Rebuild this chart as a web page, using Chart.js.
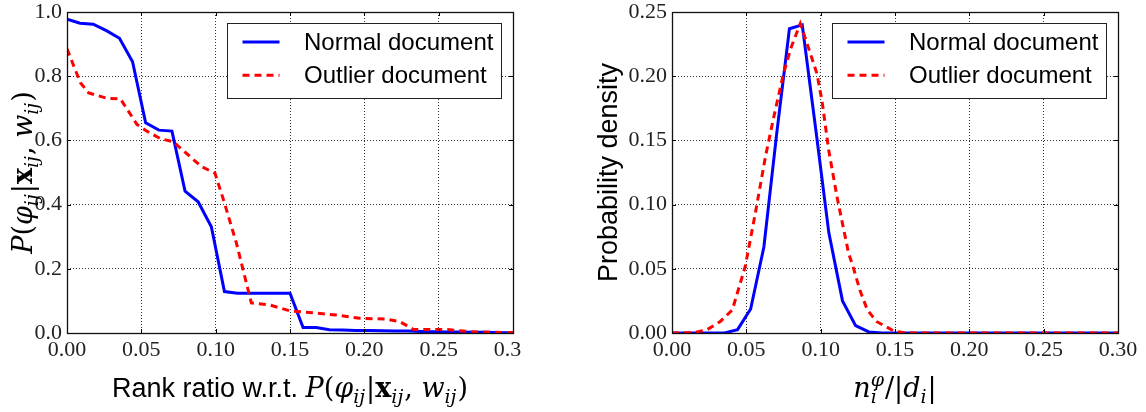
<!DOCTYPE html>
<html>
<head>
<meta charset="utf-8">
<script src="https://cdn.jsdelivr.net/npm/chart.js"></script>
<style>
    html, body { margin: 0; padding: 0; background: #fff; }
    #wrap { position: relative; width: 1146px; height: 412px; overflow: hidden; }
    #leftBox { position: absolute; left: 0; top: 0; width: 521px; height: 412px; overflow: hidden; }
    #rightBox { position: absolute; left: 573px; top: 0; width: 573px; height: 412px; }
</style>
</head>
<body>
<div id="wrap">
    <div id="leftBox"><canvas id="rankChart" width="540" height="412"></canvas></div>
    <div id="rightBox"><canvas id="densChart" width="573" height="412"></canvas></div>
</div>
<script>
// ---- left panel: probability vs rank ratio ----
const rankNormalX = [0, 0.0088, 0.0176, 0.0265, 0.0353, 0.0441, 0.0529, 0.0618, 0.0706, 0.0794, 0.0882, 0.0971,
    0.1059, 0.1147, 0.1235, 0.1324, 0.1412, 0.15, 0.1588, 0.1676, 0.1765, 0.1853, 0.1941, 0.2029, 0.2118, 0.2206,
    0.2294, 0.2382, 0.2471, 0.2559, 0.2647, 0.2735, 0.2824, 0.2912, 0.3];
const rankNormalY = [0.978, 0.965, 0.962, 0.942, 0.918, 0.845, 0.655, 0.632, 0.629, 0.442, 0.409, 0.331,
    0.129, 0.124, 0.124, 0.124, 0.124, 0.124, 0.017, 0.017, 0.010, 0.009, 0.008, 0.008, 0.007, 0.006,
    0.006, 0.005, 0.004, 0.003, 0.003, 0.002, 0.002, 0.001, 0.001];
const rankOutlierX = [0, 0.009, 0.0146, 0.027, 0.036, 0.047, 0.054, 0.063, 0.0715, 0.079, 0.0906, 0.0995,
    0.106, 0.114, 0.124, 0.1365, 0.150, 0.166, 0.181, 0.197, 0.215, 0.224, 0.233, 0.255, 0.271, 0.300];
const rankOutlierY = [0.885, 0.78, 0.748, 0.731, 0.729, 0.650, 0.628, 0.605, 0.596, 0.565, 0.518, 0.498,
    0.404, 0.279, 0.094, 0.087, 0.069, 0.063, 0.056, 0.046, 0.043, 0.035, 0.011, 0.011, 0.004, 0.001];

// ---- right panel: density of n_i / |d_i| ----
const densNormalX = [0, 0.0353, 0.0441, 0.0529, 0.0618, 0.0706, 0.0790, 0.0876, 0.0971, 0.1055, 0.1147,
    0.1235, 0.1324, 0.1412, 0.3];
const densNormalY = [0, 0, 0.0026, 0.0187, 0.067, 0.157, 0.237, 0.240, 0.155, 0.078, 0.025,
    0.0057, 0.0008, 0, 0];
const densOutlierX = [0, 0.0145, 0.0235, 0.0325, 0.0406, 0.0493, 0.0560, 0.0628, 0.0684, 0.075, 0.080, 0.0863,
    0.0908, 0.0975, 0.101, 0.1054, 0.111, 0.1188, 0.1217, 0.1265, 0.1314, 0.1375, 0.1496, 0.158, 0.3];
const densOutlierY = [0, 0.0003, 0.0025, 0.009, 0.018, 0.052, 0.093, 0.137, 0.168, 0.202, 0.222, 0.241,
    0.2256, 0.202, 0.18, 0.1425, 0.106, 0.062, 0.052, 0.033, 0.018, 0.009, 0.0013, 0, 0];

const seriesLabels = ['Normal document', 'Outlier document'];
const xTicksMax = 0.3;

// axis titles, split in pieces so sub/superscripts can be drawn smaller
const probParts = [
    { t: 'P', f: 'i' }, { t: '(', f: 'r' }, { t: 'φ', f: 'i' }, { t: 'ij', f: 'i', sub: true },
    { t: '|', f: 'r' }, { t: 'x', f: 'b' }, { t: 'ij', f: 'i', sub: true }, { t: ', ', f: 'r' },
    { t: 'w', f: 'i' }, { t: 'ij', f: 'i', sub: true }, { t: ')', f: 'r' }
];
const rankXTitle = [{ t: 'Rank ratio w.r.t. ', f: 's' }].concat(probParts);
const densXTitle = [
    { t: 'n', f: 'i' }, { t: 'i', f: 'i', sub: true, sup: 'φ' }, { t: '/', f: 'r' }, { t: '|', f: 'r' },
    { t: 'd', f: 'i' }, { t: 'i', f: 'i', sub: true }, { t: '|', f: 'r' }
];
const densYTitle = [{ t: 'Probability density', f: 's' }];

function toPoints(xs, ys) {
    return xs.map((x, i) => ({ x: x, y: ys[i] }));
}

function fontFor(f, size) {
    if (f === 's') return size + 'px "Liberation Sans"';
    // DejaVu Serif runs wide, close to Computer Modern math
    if (f === 'i') return 'italic ' + size + 'px "DejaVu Serif"';
    if (f === 'b') return 'bold ' + size + 'px "DejaVu Serif"';
    return size + 'px "DejaVu Serif"';
}

// draws mixed text centred on (cx, cy)
function drawRich(ctx, parts, cx, cy, size) {
    const small = Math.round(size * 0.7);
    const widths = parts.map(p => {
        if (p.sub || p.sup) {
            ctx.font = fontFor(p.f, small);
            let w = ctx.measureText(p.t).width;
            if (p.sup) w = Math.max(w, ctx.measureText(p.sup).width);
            return w + 1;
        }
        ctx.font = fontFor(p.f, size);
        return ctx.measureText(p.t).width;
    });
    const total = widths.reduce((a, b) => a + b, 0);
    let x = cx - total / 2;
    const base = cy + size * 0.35;
    ctx.textAlign = 'left';
    ctx.textBaseline = 'alphabetic';
    parts.forEach((p, i) => {
        if (p.sub || p.sup) {
            ctx.font = fontFor(p.f, small);
            ctx.fillText(p.t, x, base + size * 0.22);
            if (p.sup) ctx.fillText(p.sup, x, base - size * 0.42);
        } else {
            ctx.font = fontFor(p.f, size);
            ctx.fillText(p.t, x, base);
        }
        x += widths[i];
    });
}

const decoPlugin = {
    id: 'deco',
    afterDraw(chart, args, opts) {
        const ctx = chart.ctx;
        const a = chart.chartArea;
        const xs = chart.scales.x;
        const ys = chart.scales.y;
        ctx.save();

        // inward tick marks on all four sides
        ctx.strokeStyle = '#000';
        ctx.lineWidth = 1;
        ctx.beginPath();
        xs.ticks.forEach(t => {
            const px = Math.round(xs.getPixelForValue(t.value)) + 0.5;
            ctx.moveTo(px, a.bottom); ctx.lineTo(px, a.bottom - 4);
            ctx.moveTo(px, a.top); ctx.lineTo(px, a.top + 4);
        });
        ys.ticks.forEach(t => {
            const py = Math.round(ys.getPixelForValue(t.value)) + 0.5;
            ctx.moveTo(a.left, py); ctx.lineTo(a.left + 4, py);
            ctx.moveTo(a.right, py); ctx.lineTo(a.right - 4, py);
        });
        ctx.stroke();

        // frame
        ctx.lineWidth = 1.3;
        ctx.strokeStyle = '#111';
        ctx.strokeRect(Math.round(a.left) + 0.5, Math.round(a.top) + 0.5,
            Math.round(a.right - a.left), Math.round(a.bottom - a.top));

        // legend box in the upper right corner
        const bw = 274, bh = 75;
        const bx = Math.round(a.right - 12 - bw) + 0.5;
        const by = Math.round(a.top + 11) + 0.5;
        ctx.fillStyle = '#fff';
        ctx.fillRect(bx, by, bw, bh);
        ctx.strokeStyle = '#222';
        ctx.lineWidth = 1;
        ctx.strokeRect(bx, by, bw, bh);
        chart.data.datasets.forEach((ds, i) => {
            const ly = by + 18.5 + i * 33.3;
            ctx.strokeStyle = ds.borderColor;
            ctx.lineWidth = ds.borderWidth;
            ctx.setLineDash(ds.borderDash || []);
            ctx.beginPath();
            ctx.moveTo(bx + 15, ly);
            ctx.lineTo(bx + 52, ly);
            ctx.stroke();
            ctx.setLineDash([]);
            ctx.fillStyle = '#000';
            ctx.font = '24px "Liberation Sans"';
            ctx.textAlign = 'left';
            ctx.textBaseline = 'middle';
            ctx.fillText(ds.label, bx + 76.5, ly + 1);
        });

        // axis titles
        ctx.fillStyle = '#000';
        const cx = (a.left + a.right) / 2;
        drawRich(ctx, opts.xTitle, cx, 388, 27);
        ctx.translate(opts.yTitleX, (a.top + a.bottom) / 2);
        ctx.rotate(-Math.PI / 2);
        drawRich(ctx, opts.yTitle, 0, 0, 27);
        ctx.restore();
    }
};

function makeChart(canvasId, normalPts, outlierPts, yMax, yStep, yDigits, yWidth, padRight, xTitle, yTitle, yTitleX) {
    return new Chart(document.getElementById(canvasId), {
        type: 'line',
        data: {
            datasets: [
                {
                    label: seriesLabels[0],
                    data: normalPts,
                    borderColor: '#0000ff',
                    borderWidth: 3,
                    pointRadius: 0,
                    tension: 0,
                    fill: false,
                    order: 1
                },
                {
                    label: seriesLabels[1],
                    data: outlierPts,
                    borderColor: '#ff0000',
                    borderWidth: 3,
                    borderDash: [7, 5],
                    pointRadius: 0,
                    tension: 0,
                    fill: false,
                    order: 0
                }
            ]
        },
        options: {
            responsive: false,
            animation: false,
            layout: { padding: { left: 0, top: 12, right: padRight, bottom: 0 } },
            scales: {
                x: {
                    type: 'linear',
                    min: 0,
                    max: xTicksMax,
                    // fixed axis band, label overhang handled by the layout padding
                    afterFit: s => { s.height = 79; s.paddingLeft = 0; s.paddingRight = 0; },
                    grid: { color: 'rgba(0,0,0,0.8)', lineWidth: 1, drawTicks: false },
                    border: { display: false, dash: [1, 2] },
                    ticks: {
                        stepSize: 0.05,
                        autoSkip: false,
                        maxRotation: 0,
                        padding: 4,
                        color: '#222',
                        font: { family: 'Liberation Serif', size: 22 },
                        callback: v => v.toFixed(2)
                    }
                },
                y: {
                    min: 0,
                    max: yMax,
                    afterFit: s => { s.width = yWidth; s.paddingTop = 0; s.paddingBottom = 0; },
                    grid: { color: 'rgba(0,0,0,0.8)', lineWidth: 1, drawTicks: false },
                    border: { display: false, dash: [1, 2] },
                    ticks: {
                        stepSize: yStep,
                        autoSkip: false,
                        padding: 5,
                        color: '#222',
                        font: { family: 'Liberation Serif', size: 22 },
                        callback: v => v.toFixed(yDigits)
                    }
                }
            },
            plugins: {
                legend: { display: false },
                tooltip: { enabled: false },
                deco: { xTitle: xTitle, yTitle: yTitle, yTitleX: yTitleX }
            }
        },
        plugins: [decoPlugin]
    });
}

makeChart('rankChart', toPoints(rankNormalX, rankNormalY), toPoints(rankOutlierX, rankOutlierY),
    1.0, 0.2, 1, 67, 27, rankXTitle, probParts, 23);
makeChart('densChart', toPoints(densNormalX, densNormalY), toPoints(densOutlierX, densOutlierY),
    0.25, 0.05, 2, 99, 28, densXTitle, densYTitle, 35);
</script>
</body>
</html>
